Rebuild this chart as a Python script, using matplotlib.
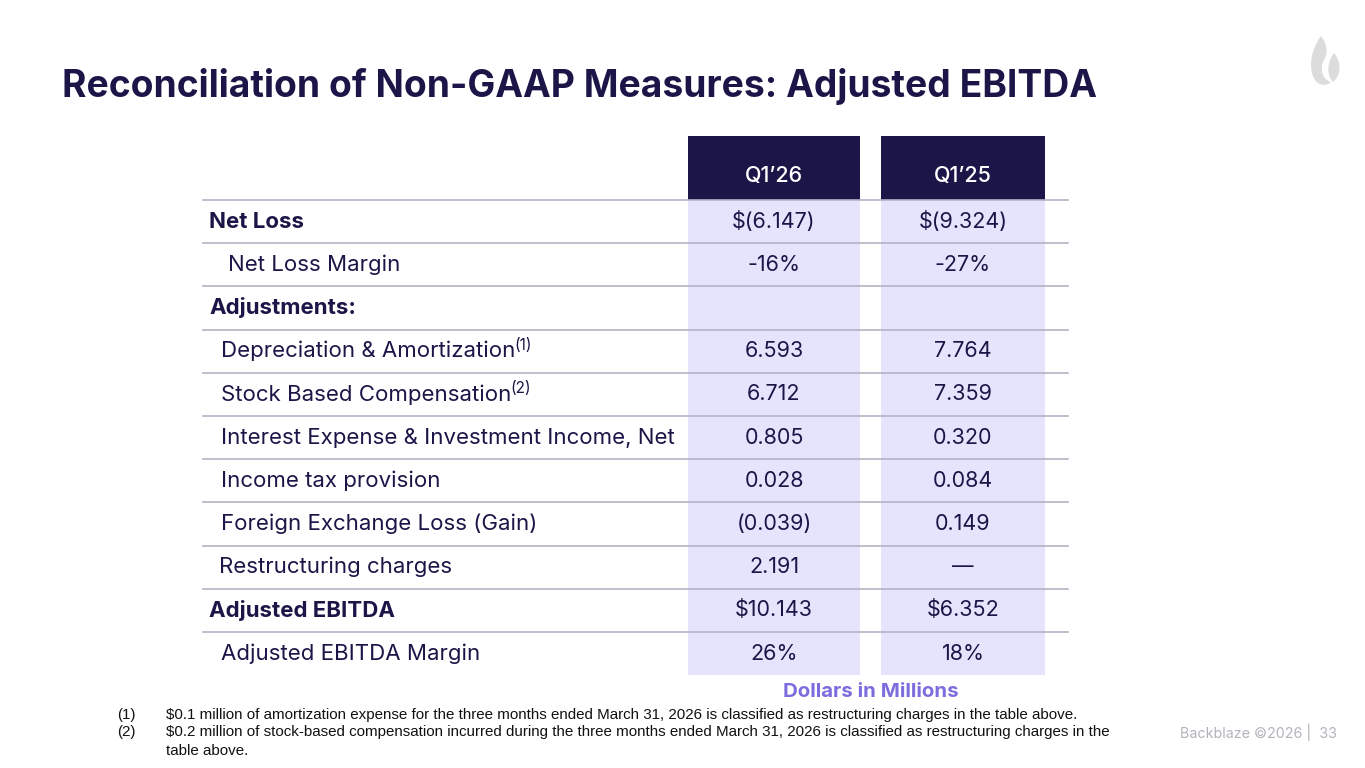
import matplotlib.pyplot as plt
from matplotlib.patches import Rectangle, PathPatch
from matplotlib.path import Path

# table content
columns = ["Q1’26", "Q1’25"]
row_labels = [
    "Net Loss", "Net Loss Margin", "Adjustments:",
    "Depreciation & Amortization", "Stock Based Compensation",
    "Interest Expense & Investment Income, Net", "Income tax provision",
    "Foreign Exchange Loss (Gain)", "Restructuring charges",
    "Adjusted EBITDA", "Adjusted EBITDA Margin",
]
row_bold = [True, False, True, False, False, False, False, False, False, True, False]
row_notes = ["", "", "", "(1)", "(2)", "", "", "", "", "", ""]
q1_26 = ["$(6.147)", "-16%", "", "6.593", "6.712", "0.805", "0.028",
         "(0.039)", "2.191", "$10.143", "26%"]
q1_25 = ["$(9.324)", "-27%", "", "7.764", "7.359", "0.320", "0.084",
         "0.149", "—", "$6.352", "18%"]
footnotes = [
    ("(1)", "$0.1 million of amortization expense for the three months ended March 31, 2026 is classified as restructuring charges in the table above."),
    ("(2)", "$0.2 million of stock-based compensation incurred during the three months ended March 31, 2026 is classified as restructuring charges in the\ntable above."),
]

NAVY = "#1b1647"
LAV = "#e6e3fc"
LINE = "#b4b3c4"
FONT = "Inter"

fig = plt.figure(figsize=(13.65, 7.68), dpi=100)
ax = fig.add_axes([0, 0, 1, 1])
ax.set_xlim(0, 1365)
ax.set_ylim(768, 0)
ax.axis("off")

# title
ax.text(62, 97, "Reconciliation of Non-GAAP Measures: Adjusted EBITDA",
        fontsize=26.8, fontweight="bold", color=NAVY, family=FONT,
        ha="left", va="baseline")

# logo (flame)
V, C = Path.MOVETO, Path.CURVE4
flame = Path(
    [(1321, 36), (1309, 52), (1309, 72), (1315, 80),
     (1319, 86), (1327, 86), (1331, 82),
     (1323, 80), (1319, 70), (1324, 60),
     (1329, 52), (1326, 42), (1321, 36)],
    [V, C, C, C, C, C, C, C, C, C, C, C, C])
flame2 = Path(
    [(1334, 53), (1326, 64), (1327, 76), (1333, 82),
     (1341, 76), (1342, 62), (1334, 53)],
    [V, C, C, C, C, C, C])
for p in (flame, flame2):
    ax.add_patch(PathPatch(p, facecolor="#dcdcdc", edgecolor="none"))

# column geometry
col_x = [(688, 860), (881, 1045)]
header_top, header_bot = 136, 200
row_h = 43.2
table_bot = header_bot + row_h * len(row_labels)

for (x0, x1), name in zip(col_x, columns):
    ax.add_patch(Rectangle((x0, header_top), x1 - x0, header_bot - header_top,
                           facecolor=NAVY, edgecolor="none"))
    ax.add_patch(Rectangle((x0, header_bot), x1 - x0, table_bot - header_bot,
                           facecolor=LAV, edgecolor="none"))
    ax.text((x0 + x1) / 2, 176, name, color="white", fontsize=15.5,
            fontweight="medium", family=FONT, ha="center", va="center")

# row lines
for i in range(len(row_labels)):
    y = header_bot + row_h * i
    ax.plot([203, 1068], [y, y], color=LINE, lw=1.2, zorder=3)

label_x = [209, 228, 209, 221, 221, 221, 221, 221, 219, 209, 221]
for i, label in enumerate(row_labels):
    yc = header_bot + row_h * (i + 0.5)
    t = ax.text(label_x[i], yc, label, fontsize=16, family=FONT,
                fontweight="bold" if row_bold[i] else "normal",
                color=NAVY, ha="left", va="center")
    if row_notes[i]:
        ax.annotate(row_notes[i], xy=(1, 0.5), xycoords=t, xytext=(-0.5, 4),
                    textcoords="offset points", fontsize=11, family=FONT,
                    color=NAVY, ha="left", va="center")
    for (x0, x1), vals in zip(col_x, (q1_26, q1_25)):
        ax.text((x0 + x1) / 2, yc, vals[i], fontsize=15.5, family=FONT,
                color=NAVY, ha="center", va="center")

ax.text(871, 692, "Dollars in Millions", fontsize=14.7, fontweight="bold",
        family=FONT, color="#7b6ddd", ha="center", va="center")

# footnotes
fy = [715, 732]
for (num, txt), y in zip(footnotes, fy):
    ax.text(117, y, num, fontsize=10.9, family="Liberation Sans",
            color="#111111", ha="left", va="center")
    for k, line in enumerate(txt.split("\n")):
        ax.text(166, y + 19 * k, line, fontsize=10.9, family="Liberation Sans",
                color="#111111", ha="left", va="center")

ax.text(1337, 732, "Backblaze ©2026 |  33", fontsize=10.3, family=FONT,
        color="#b3b3bb", ha="right", va="center")

fig.savefig("out.png", dpi=100)
